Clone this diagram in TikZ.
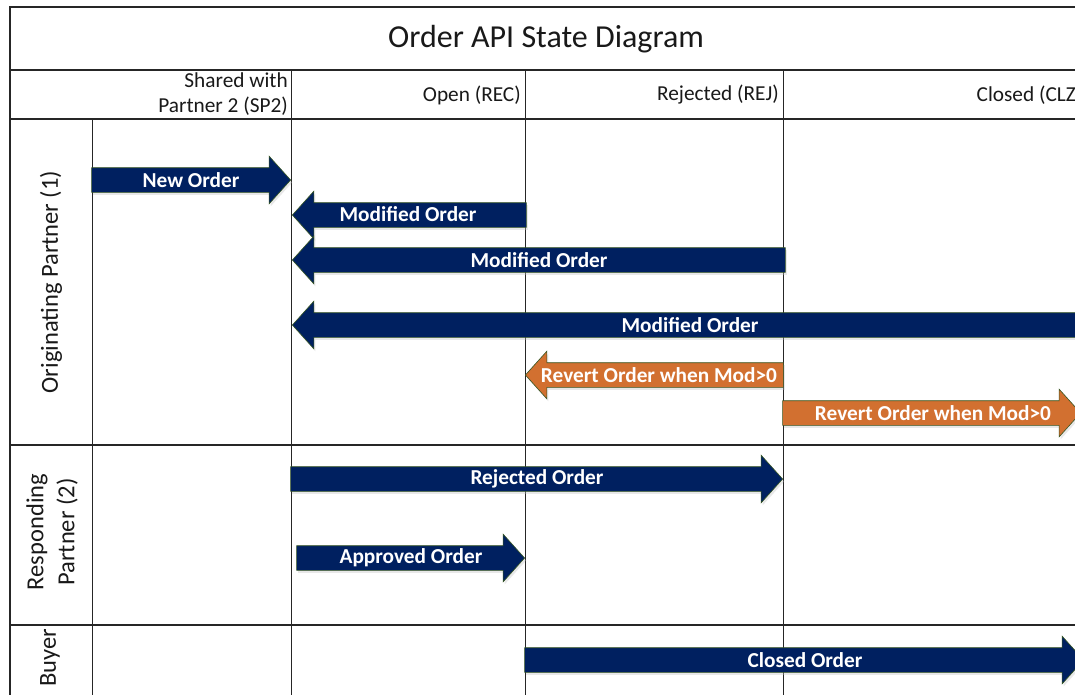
\documentclass[tikz,border=0pt]{standalone}
\usepackage{fontspec}
\setmainfont{Carlito}
\usetikzlibrary{shapes.arrows,shadows}
\definecolor{navy}{RGB}{0,32,96}
\definecolor{orng}{RGB}{210,112,48}
\definecolor{edgegreen}{RGB}{55,86,35}
\definecolor{ink}{RGB}{25,25,25}
\begin{document}
\begin{tikzpicture}[x=1pt,y=-1pt,
  blockarrow/.style={single arrow, draw=edgegreen, line width=0.6pt,
    single arrow head extend=11.5pt, single arrow tip angle=96,
    inner xsep=0pt, inner ysep=0pt, text height=18.6pt, text depth=5.4pt,
    general shadow={shadow xshift=1.5pt, shadow yshift=-2.5pt, fill=black!25, opacity=.35}},
  navyarrow/.style={blockarrow, fill=navy},
  orangearrow/.style={blockarrow, fill=orng},
  pointleft/.style={shape border rotate=180},
  albl/.style={text=white, font=\bfseries\fontsize{21.3}{24}\selectfont, inner sep=0pt},
  hdr/.style={font=\fontsize{21.3}{25}\selectfont, text=ink, inner sep=0pt},
  lane/.style={font=\fontsize{24.5}{31}\selectfont, text=ink, rotate=90, align=center, inner sep=0pt},
  major/.style={line width=1.6pt, draw=black!85},
  minor/.style={line width=1pt, draw=black!85}]
\useasboundingbox (0,0) rectangle (1075,694);
\clip (0,0) rectangle (1075,694);
\fill[white] (0,0) rectangle (1075,694);

% grid
\draw[major] (10,720) -- (10,7) -- (1082,7) -- (1082,720);
\draw[major] (10,70) -- (1082,70);
\draw[major] (10,119) -- (1082,119);
\draw[major] (10,445) -- (1082,445);
\draw[major] (10,625) -- (1082,625);
\draw[minor] (92,119) -- (92,720);
\draw[minor] (291,70) -- (291,720);
\draw[minor] (525,70) -- (525,720);
\draw[minor] (783,70) -- (783,720);

% title and headers
\node[font=\fontsize{32}{36}\selectfont, text=ink] (title) at (546,39) {Order API State Diagram};
\node[hdr, anchor=east, align=right] (sp2) at (288,94) {Shared with\\Partner 2 (SP2)};
\node[hdr, anchor=east] (rec) at (521,95) {Open (REC)};
\node[hdr, anchor=east] (rej) at (779,95) {Rejected (REJ)};
\node[hdr, anchor=east] (clz) at (1076,95) {Closed (CLZ};

% lanes
\node[lane] (orig) at (51,282) {Originating Partner (1)};
\node[lane] (resp) at (52,532) {Responding\\Partner (2)};
\node[lane] (buyer) at (50,658) {Buyer};

% arrows
\node[navyarrow, anchor=tip, minimum height=199pt] (newo) at (291,180) {};
\node[navyarrow, pointleft, anchor=tip, minimum height=234pt] (mod1) at (292,215) {};
\node[navyarrow, pointleft, anchor=tip, minimum height=493pt] (mod2) at (292,260) {};
\node[navyarrow, pointleft, anchor=tip, minimum height=796pt] (mod3) at (292,325) {};
\node[orangearrow, pointleft, anchor=tip, minimum height=258pt] (rev1) at (525,375) {};
\node[orangearrow, anchor=tip, minimum height=298pt] (rev2) at (1081,413) {};
\node[navyarrow, anchor=tip, minimum height=492pt] (rejo) at (783,479) {};
\node[navyarrow, anchor=tip, minimum height=228pt] (appo) at (525,558) {};
\node[navyarrow, anchor=tip, minimum height=559pt] (clso) at (1084,660) {};

% arrow labels
\node[albl] (newol) at (191,180) {New Order};
\node[albl] (mod1l) at (408,214) {Modified Order};
\node[albl] (mod2l) at (539,260) {Modified Order};
\node[albl] (mod3l) at (690,325) {Modified Order};
\node[albl] (rev1l) at (659,375) {Revert Order when Mod>0};
\node[albl] (rev2l) at (933,413) {Revert Order when Mod>0};
\node[albl] (rejol) at (537,479) {Rejected Order};
\node[albl] (appol) at (411,558) {Approved Order};
\node[albl] (clsol) at (805,660) {Closed Order};
\end{tikzpicture}
\end{document}
